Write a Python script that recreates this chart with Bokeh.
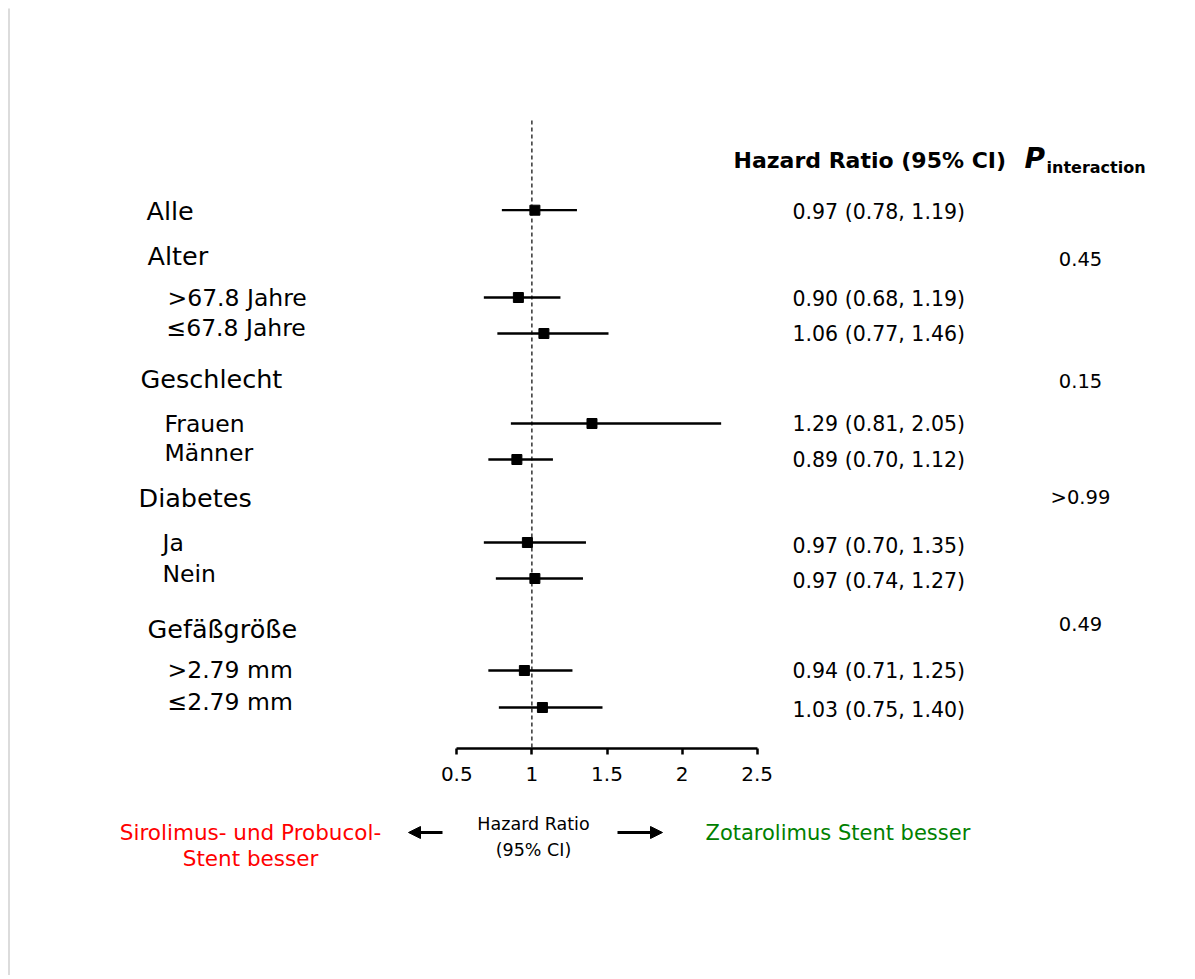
from bokeh.plotting import figure
from bokeh.models import Range1d, FixedTicker, Arrow, NormalHead, ColumnDataSource
from bokeh.core.properties import value
from bokeh.embed import file_html
from bokeh.resources import INLINE

FONT = "DejaVu Sans"

# ---------------- data ----------------
heading_labels = ["Alle", "Alter", "Geschlecht", "Diabetes", "Gefäßgröße"]
sub_labels = [">67.8 Jahre", "≤67.8 Jahre", "Frauen", "Männer", "Ja", "Nein", ">2.79 mm", "≤2.79 mm"]

est_names = ["Alle", ">67.8 Jahre", "≤67.8 Jahre", "Frauen", "Männer", "Ja", "Nein", ">2.79 mm", "≤2.79 mm"]
hr_mark = [1.02, 0.91, 1.08, 1.40, 0.90, 0.97, 1.02, 0.95, 1.07]
ci_low = [0.80, 0.68, 0.77, 0.86, 0.71, 0.68, 0.76, 0.71, 0.78]
ci_high = [1.30, 1.19, 1.51, 2.26, 1.14, 1.36, 1.34, 1.27, 1.47]
hr_text = ["0.97 (0.78, 1.19)", "0.90 (0.68, 1.19)", "1.06 (0.77, 1.46)",
           "1.29 (0.81, 2.05)", "0.89 (0.70, 1.12)", "0.97 (0.70, 1.35)",
           "0.97 (0.74, 1.27)", "0.94 (0.71, 1.25)", "1.03 (0.75, 1.40)"]

p_groups = ["Alter", "Geschlecht", "Diabetes", "Gefäßgröße"]
p_values = ["0.45", "0.15", ">0.99", "0.49"]

tick_values = [0.5, 1, 1.5, 2, 2.5]
tick_labels = ["0.5", "1", "1.5", "2", "2.5"]
null_value = 1.0

# ---------------- layout (page pixel positions) ----------------
W = 1190
H = 975
AX_PX0 = 456.3      # page x of HR 0.5
AX_PXU = 150.2      # pixels per HR unit
AXIS_Y = 748        # page y of the x axis line


def hx(px):
    return 0.5 + (px - AX_PX0) / AX_PXU


heading_x = [146, 147, 140, 138, 147]
heading_y = [210, 255, 378, 497, 628]
sub_x = [167, 166, 164, 164, 162, 162, 167, 167]
sub_y = [297, 327, 423, 452, 542, 573, 669, 701]
mark_y = [209.7, 297, 333, 423, 459, 542, 578, 670, 707]
text_y = [211, 298, 333, 423, 459, 545, 580, 670, 709]
p_y = [258, 380, 497, 623]

p = figure(width=W, height=H, x_range=Range1d(hx(0), hx(W)), y_range=Range1d(H, 0),
           output_backend="svg", toolbar_location=None,
           min_border_left=0, min_border_right=0, min_border_top=0, min_border_bottom=0,
           y_axis_location=None, outline_line_color=None,
           background_fill_color="white", border_fill_color="white")
p.xgrid.visible = False
p.ygrid.visible = False

ax = p.xaxis[0]
ax.fixed_location = AXIS_Y
ax.ticker = FixedTicker(ticks=tick_values)
ax.bounds = (0.5, 2.5)
ax.major_label_overrides = {v: s for v, s in zip(tick_values, tick_labels)}
ax.axis_line_width = 2.5
ax.axis_line_color = "black"
ax.major_tick_line_width = 2.5
ax.major_tick_line_color = "black"
ax.major_tick_out = 6
ax.major_tick_in = 0
ax.minor_tick_out = 0
ax.minor_tick_in = 0
ax.major_label_standoff = 12
ax.major_label_text_font = FONT
ax.major_label_text_font_size = "20px"
ax.major_label_text_color = "black"

# thin grey page edge
p.segment(x0=[hx(8.5)], x1=[hx(8.5)], y0=[8], y1=[H], line_color="#d0d0d0", line_width=1.5)

# reference line at HR = 1
p.segment(x0=[null_value], x1=[null_value], y0=[120], y1=[AXIS_Y],
          line_color="black", line_width=1.2, line_dash="4 3")

src = ColumnDataSource(dict(name=est_names, hr=hr_mark, lo=ci_low, hi=ci_high, y=mark_y))
p.segment(x0="lo", x1="hi", y0="y", y1="y", source=src, line_color="black", line_width=2.3)
p.scatter(x="hr", y="y", source=src, marker="square", size=10,
          fill_color="black", line_color="black")

# left labels
p.text(x=[hx(v) for v in heading_x], y=heading_y, text=heading_labels,
       text_font=value(FONT), text_font_size=value("25.5px"), text_color="black",
       text_align="left", text_baseline="middle")
p.text(x=[hx(v) for v in sub_x], y=sub_y, text=sub_labels,
       text_font=value(FONT), text_font_size=value("23.5px"), text_color="black",
       text_align="left", text_baseline="middle")

# HR text column
p.text(x=[hx(792)] * len(hr_text), y=text_y, text=hr_text,
       text_font=value(FONT), text_font_size=value("20.5px"), text_color="black",
       text_align="left", text_baseline="middle")

# P interaction column
p.text(x=[hx(1080)] * len(p_values), y=p_y, text=p_values,
       text_font=value(FONT), text_font_size=value("19.5px"), text_color="black",
       text_align="center", text_baseline="middle")

# headers
p.text(x=[hx(733)], y=[160], text=["Hazard Ratio (95% CI)"],
       text_font=value(FONT), text_font_size=value("22px"), text_font_style="bold",
       text_color="black", text_align="left", text_baseline="middle")
p.text(x=[hx(1024)], y=[158], text=["P"],
       text_font=value(FONT), text_font_size=value("28px"), text_font_style="bold italic",
       text_color="black", text_align="left", text_baseline="middle")
p.text(x=[hx(1046)], y=[167], text=["interaction"],
       text_font=value(FONT), text_font_size=value("16px"), text_font_style="bold",
       text_color="black", text_align="left", text_baseline="middle")

# bottom direction annotations
p.text(x=[hx(250), hx(250)], y=[832, 858],
       text=["Sirolimus- und Probucol-", "Stent besser"],
       text_font=value(FONT), text_font_size=value("21.5px"), text_color="#ff0000",
       text_align="center", text_baseline="middle")
p.text(x=[hx(533), hx(533)], y=[823, 849],
       text=["Hazard Ratio", "(95% CI)"],
       text_font=value(FONT), text_font_size=value("17.5px"), text_color="black",
       text_align="center", text_baseline="middle")
p.text(x=[hx(705)], y=[832], text=["Zotarolimus Stent besser"],
       text_font=value(FONT), text_font_size=value("21px"), text_color="#008000",
       text_align="left", text_baseline="middle")

p.add_layout(Arrow(end=NormalHead(size=12, fill_color="black", line_color="black"),
                   x_start=hx(442), x_end=hx(408), y_start=832, y_end=832,
                   line_width=3, line_color="black"))
p.add_layout(Arrow(end=NormalHead(size=12, fill_color="black", line_color="black"),
                   x_start=hx(617), x_end=hx(662), y_start=832, y_end=832,
                   line_width=3, line_color="black"))

open("out.html", "w").write(file_html(p, INLINE))
